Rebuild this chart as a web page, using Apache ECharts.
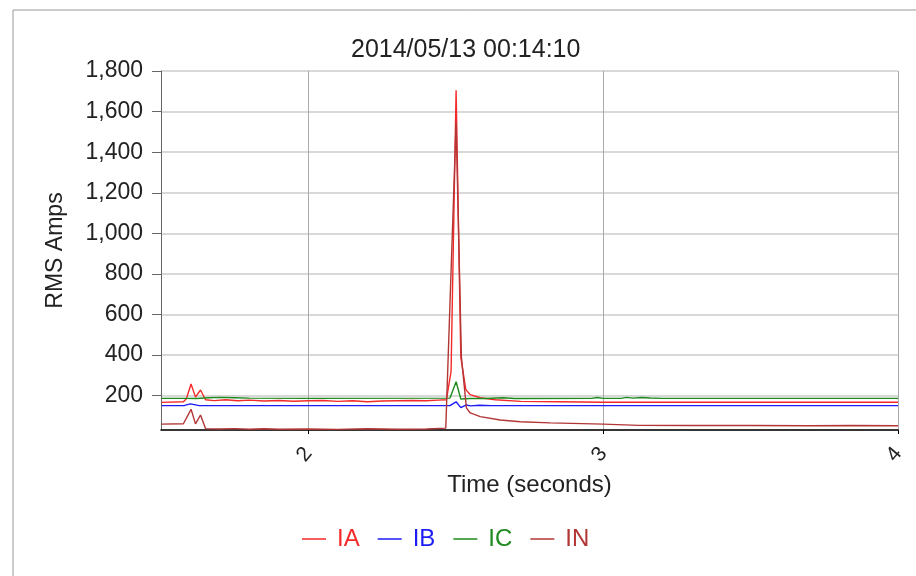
<!DOCTYPE html>
<html>
<head>
<meta charset="utf-8">
<script src="https://cdn.jsdelivr.net/npm/echarts@6/dist/echarts.min.js"></script>
<style>
  html, body { margin: 0; padding: 0; background: #fff; }
  #chart { width: 916px; height: 576px; }
</style>
</head>
<body>
<div id="chart"></div>
<script>
// time in seconds, values in RMS amps
var iaTime = [1.502, 1.576, 1.586, 1.602, 1.617, 1.634, 1.651, 1.68, 1.72, 1.76, 1.80, 1.85, 1.90, 1.95, 2.0, 2.05, 2.10, 2.15, 2.20, 2.25, 2.30, 2.35, 2.40, 2.44, 2.468, 2.484, 2.501, 2.517, 2.534, 2.549, 2.583, 2.634, 2.72, 2.85, 3.0, 3.5, 4.0];
var iaValues = [167, 170, 185, 258, 193, 228, 180, 176, 180, 175, 178, 174, 176, 173, 175, 176, 172, 175, 170, 174, 175, 176, 175, 178, 180, 320, 1705, 390, 230, 205, 190, 180, 172, 170, 168, 168, 168];

var ibTime = [1.502, 1.58, 1.60, 1.63, 2.48, 2.501, 2.517, 2.534, 2.55, 2.58, 2.62, 4.0];
var ibValues = [151, 152, 160, 151, 151, 170, 141, 154, 150, 153, 151, 151];

var icTime = [1.502, 1.58, 1.62, 1.66, 1.70, 1.75, 1.80, 2.0, 2.48, 2.501, 2.517, 2.55, 2.60, 2.66, 2.70, 2.96, 2.98, 3.0, 3.06, 3.08, 3.10, 3.13, 3.16, 3.20, 3.5, 4.0];
var icValues = [187, 187, 186, 190, 192, 190, 188, 187, 188, 269, 184, 186, 186, 190, 186, 187, 191, 187, 187, 192, 188, 191, 189, 187, 187, 187];

var inTime = [1.502, 1.576, 1.602, 1.617, 1.634, 1.651, 1.70, 1.75, 1.80, 1.85, 1.90, 2.0, 2.1, 2.2, 2.3, 2.4, 2.466, 2.501, 2.519, 2.536, 2.549, 2.583, 2.651, 2.719, 2.82, 3.0, 3.12, 3.3, 3.5, 3.7, 3.85, 4.0];
var inValues = [60, 62, 133, 61, 105, 38, 36, 38, 35, 37, 35, 36, 34, 37, 35, 36, 40, 1547, 390, 140, 115, 97, 80, 72, 66, 60, 54, 53, 53, 52, 53, 52];

var seriesNames = ["IA", "IB", "IC", "IN"];
var seriesColors = ["#f42a2a", "#1c1cf5", "#1d8a1d", "#b23636"];

function pairs(t, v) {
  return t.map(function (x, i) { return [x, v[i]]; });
}

var chart = echarts.init(document.getElementById("chart"));
var font = "Liberation Sans, Arial, sans-serif";
var allData = [pairs(iaTime, iaValues), pairs(ibTime, ibValues), pairs(icTime, icValues), pairs(inTime, inValues)];

chart.setOption({
  animation: false,
  title: {
    text: "2014/05/13 00:14:10",
    left: 346,
    top: 33,
    textStyle: { fontFamily: font, fontSize: 25, fontWeight: "normal", color: "#222" }
  },
  legend: {
    left: 297,
    top: 522,
    icon: "rect",
    itemWidth: 24,
    itemHeight: 1.5,
    itemGap: 18,
    data: seriesNames.map(function (n, i) {
      return { name: n, textStyle: { color: seriesColors[i] } };
    }),
    textStyle: { fontFamily: font, fontSize: 24, padding: [0, 0, 0, 6] }
  },
  graphic: [
    { type: "line", shape: { x1: 13, y1: 10, x2: 916, y2: 10 }, style: { stroke: "#999", lineWidth: 1 } },
    { type: "line", shape: { x1: 13, y1: 10, x2: 13, y2: 576 }, style: { stroke: "#999", lineWidth: 1 } }
  ],
  grid: { left: 161, right: 18, top: 71, bottom: 146 },
  xAxis: {
    type: "value",
    min: 1.5,
    max: 4,
    splitNumber: 3,
    name: "Time (seconds)",
    nameLocation: "middle",
    nameGap: 41,
    nameTextStyle: { fontFamily: font, fontSize: 24, color: "#222" },
    axisLine: { onZero: false, lineStyle: { color: "#000", width: 1.5 } },
    axisTick: { length: 4, lineStyle: { color: "#000" } },
    axisLabel: { showMinLabel: false, rotate: 50, margin: 20, fontFamily: font, fontSize: 21, color: "#222" },
    splitLine: { show: true, lineStyle: { color: "#aaa" } }
  },
  yAxis: {
    type: "value",
    min: 31,
    max: 1800,
    splitNumber: 9,
    name: "RMS Amps",
    nameLocation: "middle",
    nameGap: 94,
    nameTextStyle: { fontFamily: font, fontSize: 23, color: "#222" },
    axisLine: { show: true, lineStyle: { color: "#666" } },
    axisTick: { show: true, length: 9, lineStyle: { color: "#666" } },
    axisLabel: {
      showMinLabel: false,
      margin: 18,
      fontFamily: font,
      fontSize: 23,
      color: "#222",
      formatter: function (v) { return v.toLocaleString("en-US"); }
    },
    splitLine: { show: true, lineStyle: { color: "#ccc", width: 1.5 } }
  },
  series: seriesNames.map(function (n, i) {
    return {
      name: n,
      type: "line",
      symbol: "none",
      data: allData[i],
      lineStyle: { color: seriesColors[i], width: 1.4 },
      itemStyle: { color: seriesColors[i] }
    };
  })
});
</script>
</body>
</html>
